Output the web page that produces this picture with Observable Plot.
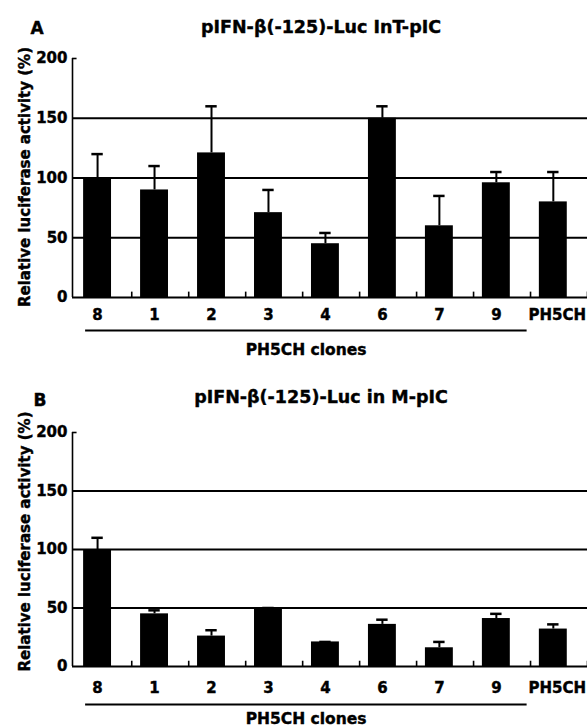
<!DOCTYPE html>
<html>
<head>
<meta charset="utf-8">
<script src="https://cdn.jsdelivr.net/npm/d3@7"></script>
<script src="https://cdn.jsdelivr.net/npm/@observablehq/plot@0.6"></script>
<style>
  html, body { margin: 0; padding: 0; background: #fff; overflow: hidden; }
  #root { position: relative; width: 587px; height: 727px; font-family: "DejaVu Sans", sans-serif; font-weight: bold; color: #000; }
  .lbl { position: absolute; white-space: nowrap; transform: translate(-50%, -50%); line-height: 1; -webkit-text-stroke: 0.4px #000; }
  .panel { position: absolute; left: 0; }
  .panel text { stroke: #000; stroke-width: 0.4px; }
</style>
</head>
<body>
<div id="root"></div>
<script>
// ---- data ----
const categories = ["8", "1", "2", "3", "4", "6", "7", "9", "PH5CH"];
const meanA = [100, 90, 121, 71, 45, 150, 60, 96, 80];
const errTopA = [120, 110, 160, 90, 54, 160, 85, 105, 105];
const meanB = [100, 45, 26, 50, 21, 36, 16, 41, 32];
const errTopB = [110, 48, 31, 50, 21, 40, 21, 45, 36];
const yTicks = [0, 50, 100, 150, 200];
const gridValues = [50, 100, 150];
const titleA = "pIFN-β(-125)-Luc InT-pIC";
const titleB = "pIFN-β(-125)-Luc in M-pIC";
const yLabel = "Relative luciferase activity (%)";
const groupLabel = "PH5CH clones";

const root = document.getElementById("root");
const xmin = -0.44, xmax = 8.6;

function panel(mean, errTop, opts) {
  const data = categories.map((c, i) => ({cat: c, i, mean: mean[i], err: errTop[i]}));
  const clones = data.slice(0, 8);
  const last = data.slice(8);
  return Plot.plot({
    width: 587,
    height: opts.height,
    marginLeft: 72,
    marginRight: 0,
    marginTop: opts.marginTop,
    marginBottom: opts.marginBottom,
    style: {fontFamily: "DejaVu Sans, sans-serif", fontSize: "15px", fontWeight: "bold", color: "#000", background: "transparent", overflow: "visible"},
    x: {domain: [xmin, xmax], axis: null},
    y: {domain: [0, 200], axis: null},
    marks: [
      Plot.ruleY(gridValues, {stroke: "#000", strokeWidth: 2.2}),
      Plot.ruleY([0], {stroke: "#000", strokeWidth: 2.2}),
      Plot.ruleX([xmin], {y1: 0, y2: 200, stroke: "#000", strokeWidth: 1.6}),
      Plot.ruleY([200], {x1: xmin, x2: xmin + 0.08, stroke: "#000", strokeWidth: 1.6}),
      Plot.ruleX(data, {x: d => d.i + 0.6, y1: 0, y2: 4.5, stroke: "#000", strokeWidth: 1.6}),
      Plot.ruleX(data, {x: "i", y1: "mean", y2: "err", stroke: "#000", strokeWidth: 2}),
      Plot.ruleY(data, {y: "err", x1: d => d.i - 0.1, x2: d => d.i + 0.1, stroke: "#000", strokeWidth: 2.5}),
      Plot.rectY(data, {x1: d => d.i - 0.245, x2: d => d.i + 0.245, y1: 0, y2: "mean", fill: "#000"}),
      Plot.text(yTicks, {x: xmin, y: d => d, text: d => String(d), textAnchor: "end", dx: -5, fill: "#000"}),
      Plot.text(clones, {x: "i", y: 0, text: "cat", dy: opts.labelDy, fill: "#000"}),
      Plot.text(last, {x: "i", y: 0, text: "cat", dy: opts.labelDy, dx: 4, fill: "#000"}),
      Plot.ruleY([0], {x1: -0.21, x2: 7.54, dy: opts.underlineDy, stroke: "#000", strokeWidth: 2}),
      Plot.text([groupLabel], {x: 3.66, y: 0, dy: opts.groupDy, text: d => d, fontSize: 15.5, fill: "#000"}),
      Plot.text([yLabel], {frameAnchor: "left", textAnchor: "middle", lineAnchor: "middle", rotate: -90, dx: -47, dy: opts.yLabelDy, text: d => d, fill: "#000"})
    ]
  });
}

function addLabel(text, x, y, size) {
  const el = document.createElement("div");
  el.className = "lbl";
  el.textContent = text;
  el.style.left = x + "px";
  el.style.top = y + "px";
  el.style.fontSize = size + "px";
  root.appendChild(el);
}

const pA = panel(meanA, errTopA, {height: 365, marginTop: 58, marginBottom: 68, labelDy: 18, underlineDy: 33, groupDy: 53, yLabelDy: -1});
pA.classList.add("panel");
pA.style.top = "0px";
root.appendChild(pA);

const pB = panel(meanB, errTopB, {height: 362, marginTop: 67, marginBottom: 61, labelDy: 22, underlineDy: 38, groupDy: 53, yLabelDy: -8});
pB.classList.add("panel");
pB.style.top = "365px";
root.appendChild(pB);

addLabel("A", 37, 28, 17);
addLabel(titleA, 321, 28, 17.5);
addLabel("B", 40, 400, 17);
addLabel(titleB, 321, 398, 17.5);
</script>
</body>
</html>
